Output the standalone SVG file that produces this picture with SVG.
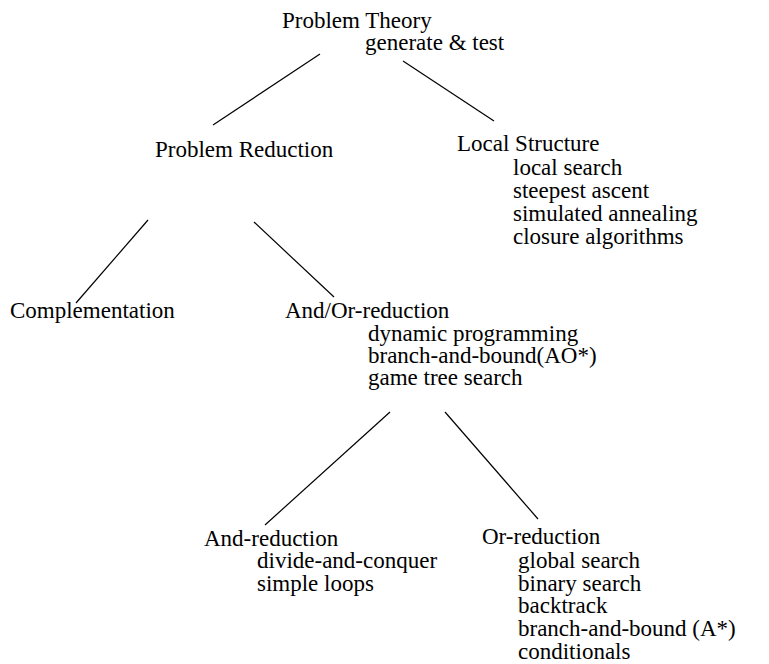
<svg xmlns="http://www.w3.org/2000/svg" width="769" height="664" viewBox="0 0 769 664">
<style>
text{font-family:"Liberation Serif","Times New Roman",serif;font-size:23px;fill:#000}
.c line{stroke:#000;stroke-width:1.2}
</style>
<rect width="769" height="664" fill="#fff"/>
<g class="c" id="connectors">
<line x1="320" y1="54" x2="213" y2="125"/>
<line x1="403" y1="61" x2="494" y2="121"/>
<line x1="148" y1="220" x2="76" y2="303"/>
<line x1="254" y1="222" x2="334" y2="297"/>
<line x1="390" y1="412" x2="265" y2="525"/>
<line x1="445" y1="412" x2="538" y2="519"/>
</g>
<g id="problem-theory">
<text x="282" y="28">Problem Theory</text>
<text x="365" y="50">generate &amp; test</text>
</g>
<g id="problem-reduction">
<text x="155" y="157">Problem Reduction</text>
</g>
<g id="local-structure">
<text x="457" y="151">Local Structure</text>
<text x="513" y="175">local search</text>
<text x="513" y="198">steepest ascent</text>
<text x="513" y="221">simulated annealing</text>
<text x="513" y="244">closure algorithms</text>
</g>
<g id="complementation">
<text x="10" y="318">Complementation</text>
</g>
<g id="and-or-reduction">
<text x="285" y="318">And/Or-reduction</text>
<text x="368" y="341">dynamic programming</text>
<text x="368" y="363">branch-and-bound(AO*)</text>
<text x="368" y="385">game tree search</text>
</g>
<g id="and-reduction">
<text x="204" y="546">And-reduction</text>
<text x="257" y="568">divide-and-conquer</text>
<text x="257" y="591">simple loops</text>
</g>
<g id="or-reduction">
<text x="482" y="544">Or-reduction</text>
<text x="518" y="568">global search</text>
<text x="518" y="591">binary search</text>
<text x="518" y="613">backtrack</text>
<text x="518" y="636">branch-and-bound (A*)</text>
<text x="518" y="659">conditionals</text>
</g>
</svg>
